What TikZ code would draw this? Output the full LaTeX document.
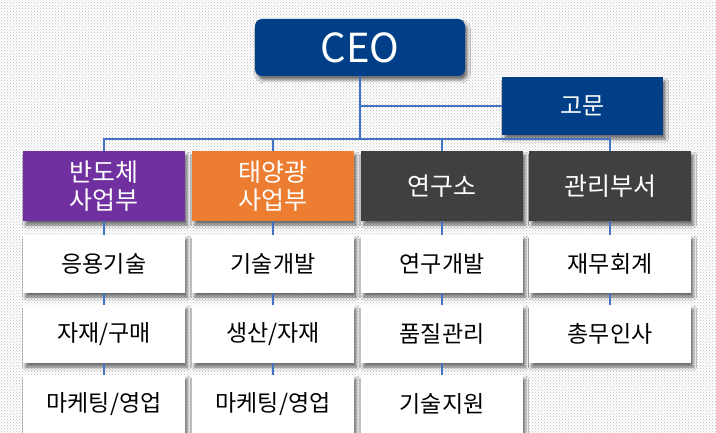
\documentclass[tikz,border=0pt]{standalone}
\usepackage{fontspec}
\setmainfont{Noto Sans CJK KR}
\usetikzlibrary{patterns,shadows.blur}
\definecolor{navy}{RGB}{0,63,136}
\definecolor{deptpurple}{RGB}{112,48,160}
\definecolor{deptorange}{RGB}{237,125,49}
\definecolor{deptgray}{RGB}{64,64,64}
\definecolor{linkblue}{RGB}{68,114,196}
\begin{document}
\begin{tikzpicture}[x=1pt,y=-1pt,
        box/.style={inner sep=0pt, minimum width=162pt, text=white, align=center,
            font=\fontsize{25}{28}\selectfont,
            blur shadow={shadow xshift=2.5pt, shadow yshift=-4pt, shadow opacity=55,
                shadow blur radius=3pt}},
        sub/.style={box, fill=white, text=black, minimum height=58pt,
            font=\fontsize{23}{26}\selectfont},
        link/.style={draw=linkblue, line width=1.2pt}]
        % Background
        \fill[white] (0,0) rectangle (716,433);
        \fill[pattern=crosshatch dots, pattern color=gray!50] (0,0) rectangle (716,433);
        \useasboundingbox (0,0) rectangle (716,433);
        % Top
        \node[box, fill=navy, rounded corners=7pt, minimum width=210pt, minimum height=57pt,
            font=\fontsize{40}{44}\selectfont] (ceo) at (360,47.5) {CEO};
        \node[box, fill=navy, minimum width=161pt, minimum height=58pt,
            font=\fontsize{24}{28}\selectfont] (gomun) at (582.5,106) {고문};
        % Departments and their teams
        \foreach \i/\x/\col/\name/\items in {
            1/104/deptpurple/{반도체\\사업부}/{응용기술,자재/구매,마케팅/영업},
            2/273/deptorange/{태양광\\사업부}/{기술개발,생산/자재,마케팅/영업},
            3/442/deptgray/{연구소}/{연구개발,품질관리,기술지원},
            4/610/deptgray/{관리부서}/{재무회계,총무인사}} {
            \node[box, fill=\col, minimum height=70pt] (d\i) at (\x,186) {\name};
            \foreach \t [count=\j] in \items {
                \pgfmathsetmacro\yy{264+(\j-1)*70}
                \node[sub] (s\i\j) at (\x,\yy) {\t};
            }
        }
        % Connectors
        \coordinate (bus) at (360,139);
        \draw[link] (ceo) -- (bus);
        \draw[link] (gomun) -- (gomun -| ceo);
        \draw[link] (d1) |- (bus) -| (d4);
        \draw[link] (d2) -- (d2 |- bus);
        \draw[link] (d3) -- (d3 |- bus);
        \foreach \i/\n in {1/3, 2/3, 3/3, 4/2} {
            \draw[link] (d\i) -- (s\i1);
            \foreach \j in {2,...,\n} {
                \pgfmathtruncatemacro\k{\j-1}
                \draw[link] (s\i\k) -- (s\i\j);
            }
        }
    \end{tikzpicture}
\end{document}
